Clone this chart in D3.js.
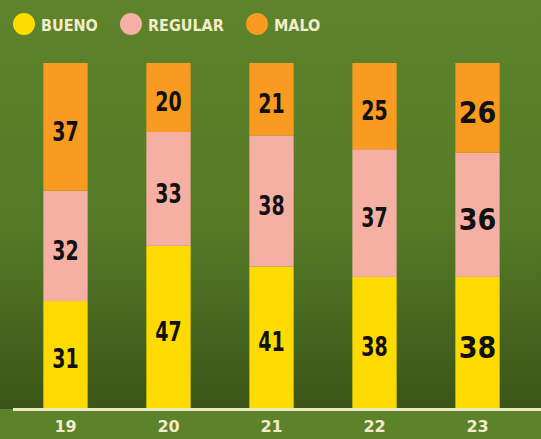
<!DOCTYPE html>
<html>
<head>
<meta charset="utf-8">
<script src="https://cdn.jsdelivr.net/npm/d3@7"></script>
<style>
  body { margin: 0; background: #5c822b; }
  svg { display: block; }
</style>
</head>
<body>
<div id="container"></div>
<script>
let w = 541;
let h = 439;

// data
let years = ["19", "20", "21", "22", "23"];
let bueno = [31, 47, 41, 38, 38];
let regular = [32, 33, 38, 37, 36];
let malo = [37, 20, 21, 25, 26];
let seriesNames = ["BUENO", "REGULAR", "MALO"];
let colors = ["#fedb00", "#f5b0a3", "#f89b20"];

let rows = years.map(function(y, i){
  return {year: y, BUENO: bueno[i], REGULAR: regular[i], MALO: malo[i]};
});

let viz = d3.select("#container").append("svg")
    .attr("width", w)
    .attr("height", h)
;

// background gradient
let defs = viz.append("defs");
let grad = defs.append("linearGradient")
    .attr("id", "bg")
    .attr("x1", 0).attr("y1", 0).attr("x2", 0).attr("y2", 1);
grad.append("stop").attr("offset", "0%").attr("stop-color", "#5d842b");
grad.append("stop").attr("offset", "55%").attr("stop-color", "#557a27");
grad.append("stop").attr("offset", "100%").attr("stop-color", "#3a5517");

viz.append("rect")
    .attr("width", w).attr("height", 409)
    .attr("fill", "url(#bg)");
viz.append("rect")
    .attr("y", 409).attr("width", w).attr("height", h - 409)
    .attr("fill", "#5c822a");

let x = d3.scaleBand()
    .domain(years)
    .range([14, 529])
    .paddingInner(0.57)
    .paddingOuter(0.285);

let y = d3.scaleLinear()
    .domain([0, 100])
    .range([408, 63]);

let stack = d3.stack().keys(seriesNames);
let layers = stack(rows);

let groups = viz.selectAll(".layer").data(layers).enter()
    .append("g")
    .attr("class", "layer")
    .attr("fill", function(d, i){ return colors[i]; });

groups.selectAll("rect").data(function(d){ return d; }).enter()
    .append("rect")
    .attr("x", function(d){ return x(d.data.year); })
    .attr("y", function(d){ return y(d[1]); })
    .attr("width", x.bandwidth())
    .attr("height", function(d){ return y(d[0]) - y(d[1]); });

// value labels (narrow bold digits, last year bigger)
groups.selectAll("text").data(function(d){ return d; }).enter()
    .append("text")
    .text(function(d){ return d[1] - d[0]; })
    .attr("transform", function(d){
      let cx = x(d.data.year) + x.bandwidth() / 2;
      let cy = (y(d[0]) + y(d[1])) / 2 + 5;
      let sx = d.data.year == "23" ? 1 : 0.78;
      return "translate(" + cx + "," + cy + ") scale(" + sx + ",1)";
    })
    .attr("text-anchor", "middle")
    .attr("dominant-baseline", "central")
    .attr("fill", "#111")
    .attr("font-family", "'DejaVu Sans Condensed', sans-serif")
    .attr("font-weight", "bold")
    .attr("font-size", function(d){ return d.data.year == "23" ? 30 : 27; });

// baseline
viz.append("line")
    .attr("x1", 13).attr("x2", w)
    .attr("y1", 409.5).attr("y2", 409.5)
    .attr("stroke", "#efe5c2")
    .attr("stroke-width", 3);

// year axis
let axis = viz.append("g")
    .attr("transform", "translate(0,411)")
    .call(d3.axisBottom(x).tickSize(0).tickPadding(10));
axis.select(".domain").remove();
axis.selectAll("text")
    .attr("fill", "#f3ebc9")
    .attr("font-family", "'DejaVu Sans', sans-serif")
    .attr("font-weight", "bold")
    .attr("font-size", 16);

// legend
let legendX = [24, 131, 257];
let legend = viz.selectAll(".leg").data(seriesNames).enter()
    .append("g")
    .attr("class", "leg")
    .attr("transform", function(d, i){ return "translate(" + legendX[i] + ",24)"; });
legend.append("circle")
    .attr("r", 11)
    .attr("fill", function(d, i){ return colors[i]; });
legend.append("text")
    .text(function(d){ return d; })
    .attr("x", 17)
    .attr("y", 1)
    .attr("dominant-baseline", "central")
    .attr("fill", "#f3ebc9")
    .attr("font-family", "'DejaVu Sans Condensed', sans-serif")
    .attr("font-weight", "bold")
    .attr("font-size", 16);
</script>
</body>
</html>
